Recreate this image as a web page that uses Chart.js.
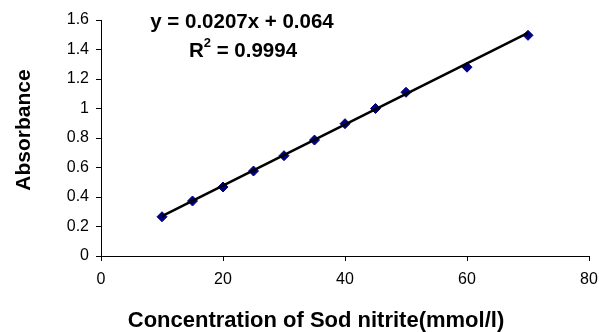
<!DOCTYPE html>
<html>
<head>
<meta charset="utf-8">
<script src="https://cdn.jsdelivr.net/npm/chart.js@4"></script>
<style>
    html, body { margin: 0; padding: 0; background: #fff; }
    #wrap { width: 599px; height: 332px; }
</style>
</head>
<body>
<div id="wrap"><canvas id="calChart" width="599" height="332"></canvas></div>
<script>
// Calibration data
const concentration = [10, 15, 20, 25, 30, 35, 40, 45, 50, 60, 70];
const absorbance = [0.266, 0.373, 0.468, 0.576, 0.68, 0.786, 0.897, 1.0, 1.11, 1.28, 1.496];

// Linear trendline end points
const trendX = [10, 70];
const trendY = [0.271, 1.513];

const equationText = "y = 0.0207x + 0.064";
const r2Value = " = 0.9994";
const xTitle = "Concentration of Sod nitrite(mmol/l)";
const yTitle = "Absorbance";

const font = "'Liberation Sans', Arial, sans-serif";

// Equation and axis titles, placed like in the original sheet
const textLayer = {
    id: "textLayer",
    afterDraw(chart) {
        const c = chart.ctx;
        c.save();
        c.fillStyle = "#000";
        c.textBaseline = "middle";

        c.textAlign = "center";
        c.font = "bold 20.5px " + font;
        c.fillText(equationText, 242, 22);

        // R² line with a raised small 2
        const big = "bold 20.5px " + font;
        const small = "bold 13px " + font;
        c.font = big;
        const wR = c.measureText("R").width;
        const wV = c.measureText(r2Value).width;
        c.font = small;
        const w2 = c.measureText("2").width;
        let x = 243 - (wR + w2 + wV) / 2;
        c.textAlign = "left";
        c.font = big;
        c.fillText("R", x, 51);
        c.font = small;
        c.fillText("2", x + wR, 43);
        c.font = big;
        c.fillText(r2Value, x + wR + w2, 51);

        c.textAlign = "center";
        c.font = "bold 22px " + font;
        c.fillText(xTitle, 316, 321);

        c.font = "bold 21px " + font;
        c.translate(24, 130);
        c.rotate(-Math.PI / 2);
        c.fillText(yTitle, 0, 0);
        c.restore();
    },
};

const ctx = document.getElementById("calChart").getContext("2d");
new Chart(ctx, {
    type: "scatter",
    data: {
        datasets: [
            {
                label: "Absorbance",
                data: concentration.map((x, i) => ({ x: x, y: absorbance[i] })),
                pointStyle: "rectRot",
                pointRadius: 5,
                backgroundColor: "#000080",
                borderColor: "#000080",
                borderWidth: 1,
                order: 2,
            },
            {
                label: "Linear",
                data: trendX.map((x, i) => ({ x: x, y: trendY[i] })),
                type: "line",
                showLine: true,
                pointRadius: 0,
                borderColor: "#000",
                borderWidth: 2.5,
                order: 1,
            },
        ],
    },
    options: {
        responsive: false,
        animation: false,
        layout: { padding: { top: 20, right: 0, left: 0, bottom: 0 } },
        plugins: {
            legend: { display: false },
            tooltip: { enabled: false },
        },
        scales: {
            x: {
                type: "linear",
                min: 0,
                max: 80,
                ticks: { stepSize: 20, color: "#000", font: { family: font, size: 16 }, padding: 9 },
                grid: { drawOnChartArea: false, tickLength: 5, color: "#000" },
                border: { color: "#000", width: 1 },
                afterFit: (scale) => {
                    scale.height = 76;
                    scale.paddingRight = 10;
                },
            },
            y: {
                min: 0,
                max: 1.6,
                ticks: {
                    stepSize: 0.2,
                    color: "#000",
                    font: { family: font, size: 16 },
                    padding: 7,
                    callback: (v) => String(Math.round(v * 10) / 10),
                },
                grid: { drawOnChartArea: false, tickLength: 5, color: "#000" },
                border: { color: "#000", width: 1 },
                afterFit: (scale) => {
                    scale.width = 101;
                },
            },
        },
    },
    plugins: [textLayer],
});
</script>
</body>
</html>
